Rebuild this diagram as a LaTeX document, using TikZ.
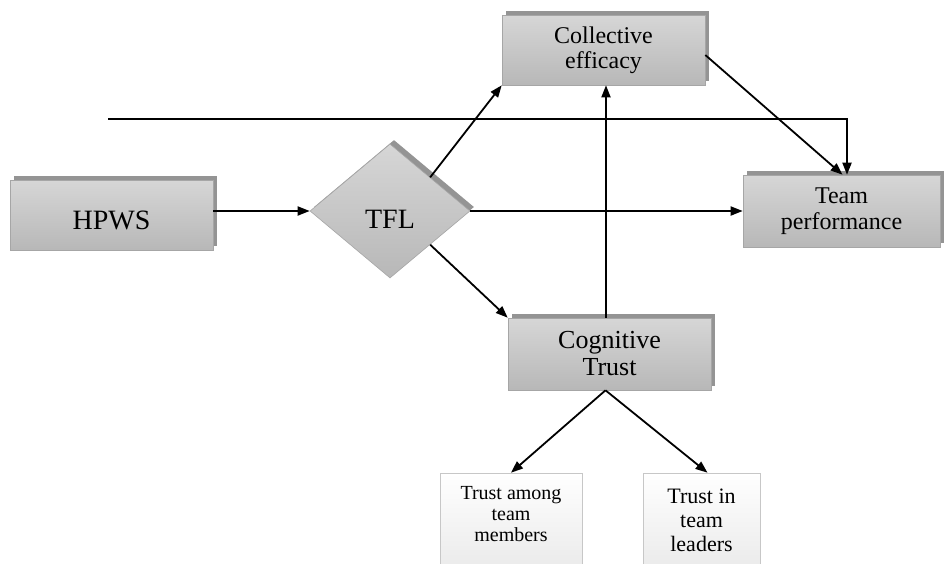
\documentclass[tikz,border=0pt]{standalone}
\usepackage{fontspec}
\setmainfont{Liberation Serif}
\usetikzlibrary{shapes.geometric,shadows,arrows.meta,calc}
\begin{document}
\begin{tikzpicture}[x=1pt,y=-1pt,
  gshade/.style={draw=black!35, line width=0.6pt, top color=black!16, bottom color=black!28,
    drop shadow={shadow xshift=4pt, shadow yshift=4pt, fill=black!42, opacity=1}},
  gbox/.style={gshade, rectangle, align=center, inner sep=0pt},
  gdiam/.style={gshade, diamond, aspect=1.19, minimum width=160pt, minimum height=134pt, inner sep=0pt},
  wbox/.style={rectangle, draw=black!22, line width=0.6pt, top color=white, bottom color=black!8,
    align=center, inner sep=0pt},
  arr/.style={-{Triangle[length=12pt,width=9pt]}, line width=1.8pt, black}
]
\clip (0,0) rectangle (944,563);
\fill[white] (0,0) rectangle (944,563);

\node[gbox, font=\fontsize{28pt}{30pt}\selectfont, minimum width=203pt, minimum height=70pt,
  text height=28pt, text depth=0pt] (HPWS) at (111.5,215) {HPWS};
\node[gdiam, font=\fontsize{28pt}{30pt}\selectfont, text height=34pt, text depth=0pt] (TFL) at (390,211) {TFL};
\node[gbox, font=\fontsize{24pt}{25pt}\selectfont, minimum width=203pt, minimum height=70pt] (CE) at (603.5,50) {Collective\\efficacy};
\node[gbox, font=\fontsize{24pt}{26pt}\selectfont, minimum width=197pt, minimum height=72pt] (TP) at (841.5,211) {Team\\performance};
\node[gbox, font=\fontsize{26pt}{27pt}\selectfont, minimum width=203pt, minimum height=72pt] (CT) at (609.5,354) {Cognitive\\Trust};
\node[wbox, font=\fontsize{20pt}{21pt}\selectfont, minimum width=142pt, minimum height=95pt, text depth=13pt] (TAM) at (511,520.5) {Trust among\\team\\members};
\node[wbox, font=\fontsize{22pt}{24pt}\selectfont, minimum width=117pt, minimum height=95pt] (TIL) at (701.5,520.5) {Trust in\\team\\leaders};

\coordinate (start) at (108,119);

\draw[arr] (HPWS.east |- TFL.west) -- (TFL.west);
\draw[arr] (TFL.north east) -- (CE.south west);
\draw[arr] (TFL.east) -- (TP.west);
\draw[arr] (TFL.south east) -- (CT.north west);
\draw[arr] ([xshift=-3.5pt]CT.north) -- ([xshift=-3.5pt]CT.north |- CE.south);
\draw[arr] ([yshift=-5pt]CE.east) -- ([xshift=1pt]TP.north);
\draw[arr] (start) -| ([xshift=5.5pt]TP.north);
\draw[arr] ([xshift=-4pt]CT.south) -- (TAM.north);
\draw[arr] ([xshift=-4pt]CT.south) -- ([xshift=6pt]TIL.north);
\end{tikzpicture}
\end{document}
